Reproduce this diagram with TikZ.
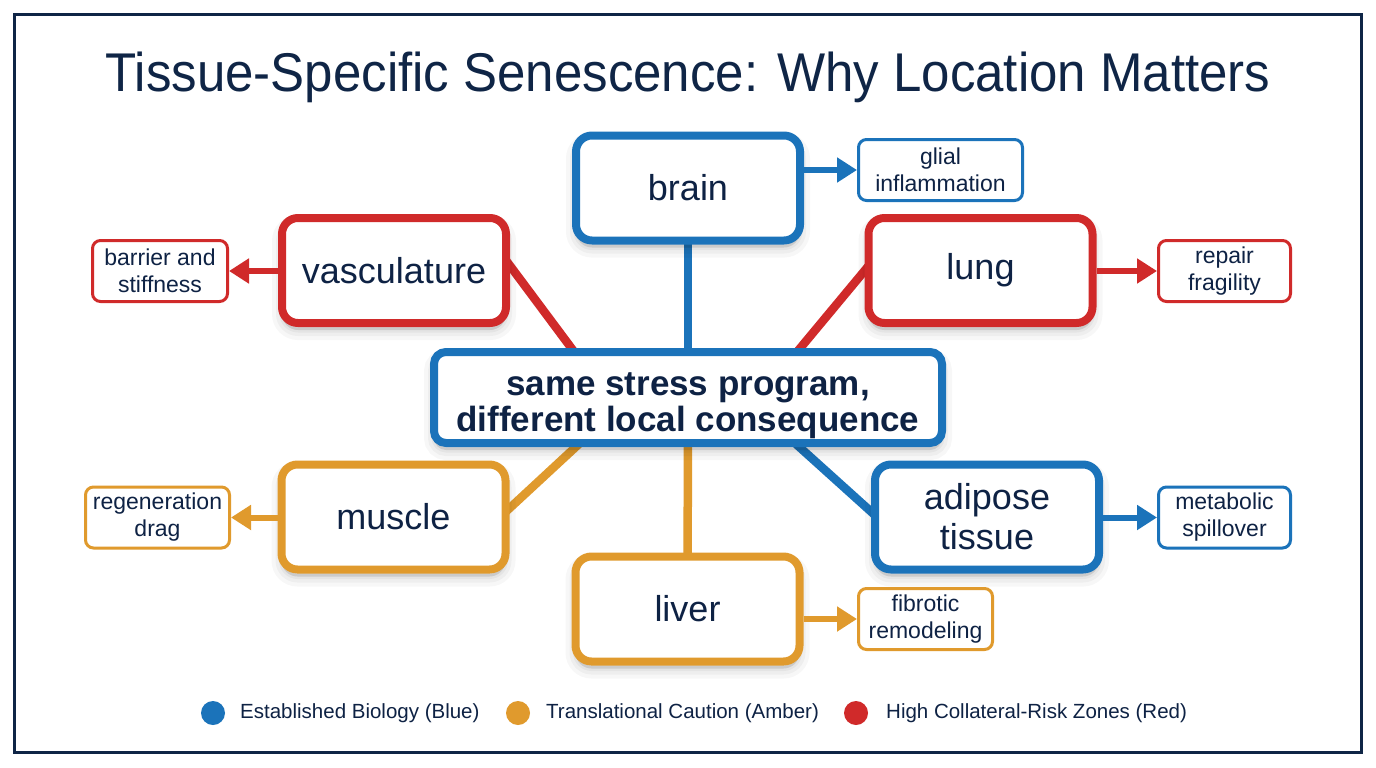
\documentclass[tikz,border=0pt]{standalone}
\usepackage{fontspec}
\setmainfont{Liberation Sans}
\usetikzlibrary{calc,backgrounds,arrows.meta,shadows}
\pgfdeclarelayer{bottom}
\pgfsetlayers{bottom,background,main}
\definecolor{cblue}{HTML}{1B73BA}
\definecolor{cred}{HTML}{D02A2A}
\definecolor{camber}{HTML}{E09A2D}
\definecolor{navy}{HTML}{0F2546}
\definecolor{txt}{HTML}{0E2244}
\begin{document}
\begin{tikzpicture}[x=1pt,y=-1pt,
  softshadow/.style={
    drop shadow={shadow xshift=0pt, shadow yshift=-7pt, fill=black, draw=black, opacity=0.03, line width=20pt},
    drop shadow={shadow xshift=0pt, shadow yshift=-7pt, fill=black, draw=black, opacity=0.035, line width=12pt},
    drop shadow={shadow xshift=0pt, shadow yshift=-7pt, fill=black, draw=black, opacity=0.04, line width=5pt}},
  organ/.style={draw=#1, line width=8pt, rounded corners=16pt, fill=white,
    minimum width=224pt, minimum height=105pt, align=center, text=txt,
    font=\fontsize{36}{40}\selectfont, inner sep=0pt, softshadow},
  effect/.style={draw=#1, line width=3pt, rounded corners=8pt, fill=white,
    minimum height=61pt, align=center, text=txt,
    font=\fontsize{23}{27}\selectfont, inner sep=0pt},
  conn/.style={draw=#1, line width=8.5pt},
  fx/.style={draw=#1, fill=#1, line width=6pt, -{Triangle[length=20pt,width=24pt]}},
  legtxt/.style={anchor=west, inner sep=0pt, text=txt, font=\fontsize{20.5}{24}\selectfont},
  dot/.style={circle, fill=#1, minimum size=24pt, inner sep=0pt}
]
\useasboundingbox (0,0) rectangle (1376,768);
\begin{pgfonlayer}{bottom}
\fill[white] (0,0) rectangle (1376,768);
\end{pgfonlayer}
\draw[navy, line width=3pt] (14.5,14.5) rectangle (1361.5,752.5);

\node[anchor=base, text=navy, inner sep=0pt, font=\fontsize{51}{55}\selectfont] (title) at (688,92)
  {\scalebox{1}[1.07]{Tissue-Specific Senescence: Why Location Matters}};

% organs
\node[organ=cblue] (brain) at (688,188) {brain};
\node[organ=cred] (vasc) at (394,270.5) {vasculature};
\node[organ=cred] (lung) at (980.5,270.5) {lung};
\node[organ=camber] (muscle) at (393.5,517) {muscle};
\node[organ=cblue] (adipose) at (987,517) {adipose\\tissue};
\node[organ=camber] (liver) at (687.5,609) {liver};
\node[organ=cblue, minimum width=508pt, minimum height=91pt, rounded corners=12pt,
  font=\bfseries\fontsize{35}{36}\selectfont] (core) at (688,397.5)
  {\rule{0pt}{39pt}same stress program,\\different local consequence};

% effects
\node[effect=cblue, minimum width=164pt] (glial) at (940.5,170) {glial\\inflammation};
\node[effect=cred, minimum width=135pt] (barrier) at (160,271) {barrier and\\stiffness};
\node[effect=cred, minimum width=132pt] (repair) at (1224.5,271) {repair\\fragility};
\node[effect=camber, minimum width=144pt] (regen) at (157.5,517.5) {regeneration\\drag};
\node[effect=cblue, minimum width=132pt] (metab) at (1224.5,517.5) {metabolic\\spillover};
\node[effect=camber, minimum width=134pt] (fibro) at (925.5,619) {fibrotic\\remodeling};

% arrows
\draw[fx=cblue] (brain.east |- glial.west) -- (glial.west);
\draw[fx=cred] (vasc.west |- barrier.east) -- (barrier.east);
\draw[fx=cred] (lung.east |- repair.west) -- (repair.west);
\draw[fx=camber] (muscle.west |- regen.east) -- (regen.east);
\draw[fx=cblue] (adipose.east |- metab.west) -- (metab.west);
\draw[fx=camber] (liver.east |- fibro.west) -- (fibro.west);

% connectors
\begin{scope}[on background layer]
\draw[conn=cblue] (brain.center) -- (core.center);
\draw[conn=camber] (core.center) -- (liver.center);
\draw[conn=cred] ($(core.north)+(-110,9)$) -- ($(vasc.east)+(-5,-11.5)$);
\draw[conn=cred] ($(core.north)+(104,10)$) -- ($(lung.west)+(9,-10.5)$);
\draw[conn=camber] ($(core.south)+(-108,-4)$) -- ($(muscle.east)+(-4,-5)$);
\draw[conn=cblue] ($(core.south)+(108,-3)$) -- ($(adipose.west)+(6,0)$);
\end{scope}

% legend
\node[dot=cblue] (lb) at (213,713) {};
\node[legtxt] (lbt) at (240,713) {Established Biology (Blue)};
\node[dot=camber] (la) at (518,713) {};
\node[legtxt] (lat) at (546,713) {Translational Caution (Amber)};
\node[dot=cred] (lr) at (856,713) {};
\node[legtxt] (lrt) at (886,713) {High Collateral-Risk Zones (Red)};
\end{tikzpicture}
\end{document}
